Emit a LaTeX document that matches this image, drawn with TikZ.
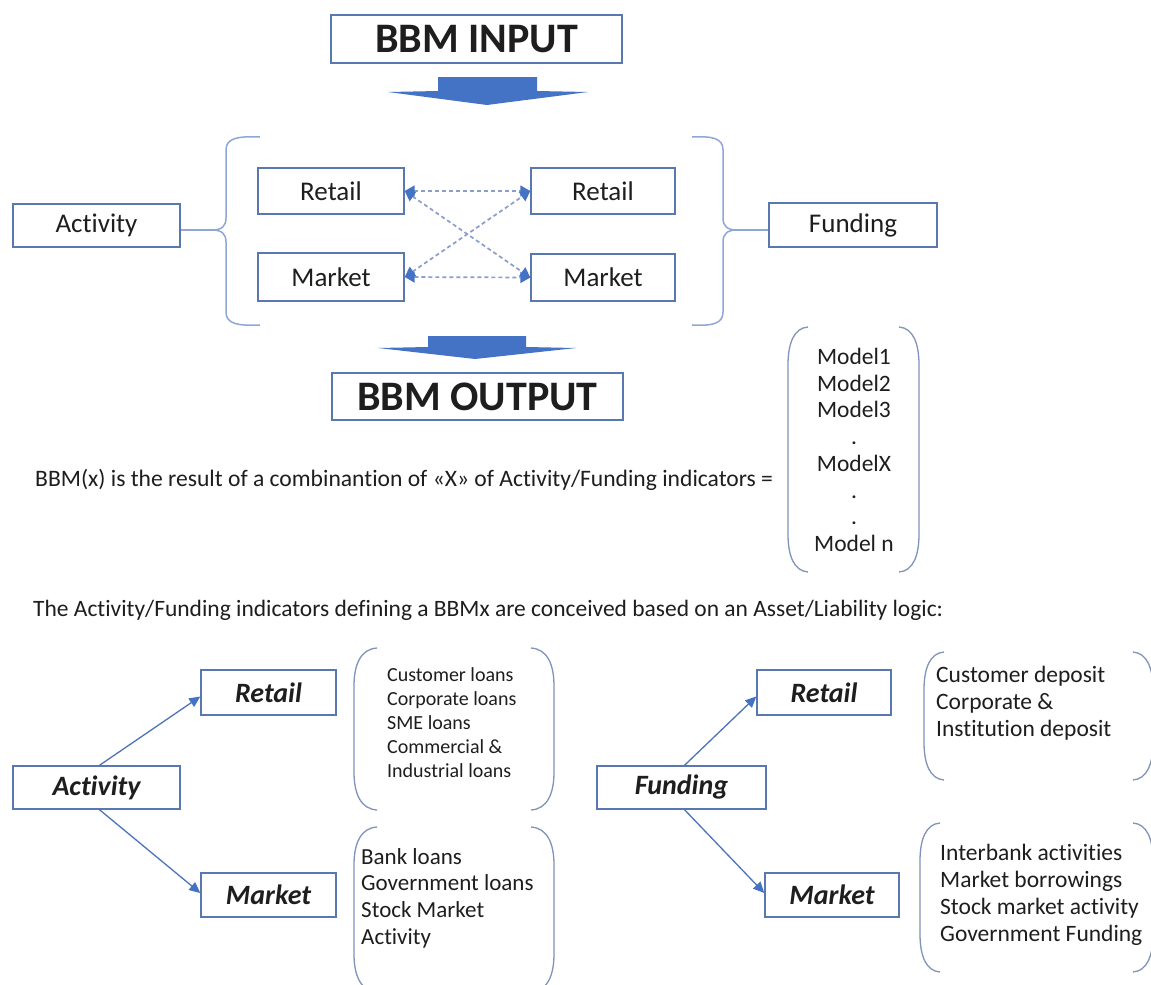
\documentclass[tikz,border=0pt]{standalone}
\usepackage{fontspec}
\setmainfont[Ligatures=NoCommon]{Carlito}
\usetikzlibrary{arrows.meta}
\definecolor{boxc}{HTML}{5A78B0}
\definecolor{bracec}{HTML}{8FA7D6}
\definecolor{parc}{HTML}{8193B8}
\definecolor{arrowc}{HTML}{4472C4}
\definecolor{dashc}{HTML}{8B9DCB}
\definecolor{txt}{HTML}{1E1E1E}
\newcommand{\myfs}[2]{\fontsize{#1}{#2}\selectfont}
\newcommand{\parpair}[5]{%
 \draw[parenline] ({#1+#5},#2) .. controls ({#1+0.3*#5},{#2+1}) and (#1,{#2+16}) .. (#1,{#2+38}) -- (#1,{#4-38}) .. controls (#1,{#4-16}) and ({#1+0.3*#5},{#4-1}) .. ({#1+#5},#4);
 \draw[parenline] ({#3-#5},#2) .. controls ({#3-0.3*#5},{#2+1}) and (#3,{#2+16}) .. (#3,{#2+38}) -- (#3,{#4-38}) .. controls (#3,{#4-16}) and ({#3-0.3*#5},{#4-1}) .. ({#3-#5},#4);}
\begin{document}
\begin{tikzpicture}[x=1pt,y=-1pt,
  lbl/.style={draw=boxc, line width=1.4pt, inner sep=0pt, text=txt, fill=white},
  toplbl/.style={lbl, font=\myfs{27}{32}, minimum height=45pt},
  titlebox/.style={lbl, font=\myfs{42}{48}\bfseries, minimum width=291pt, minimum height=48pt},
  botlbl/.style={lbl, font=\myfs{28}{33}\bfseries\itshape, minimum height=44pt},
  bracestyle/.style={draw=bracec, line width=1.5pt},
  parenline/.style={draw=parc, line width=1.3pt},
  dasharrow/.style={draw=dashc, line width=1.7pt, dash pattern=on 4pt off 3pt,
     {Triangle[length=10pt,width=11pt,color=arrowc]}-{Triangle[length=10pt,width=11pt,color=arrowc]}},
  solidarrow/.style={draw=arrowc!85!gray, line width=1.3pt, -{Triangle[length=11pt,width=10pt,color=arrowc]}},
  listtext/.style={anchor=north west, inner sep=0pt, align=left, text=txt},
  blockarrow/.style={fill=arrowc}
]
\clip (0,0) rectangle (1151,985);
\fill[white] (0,0) rectangle (1151,985);

% ---------- top part ----------
\node[titlebox] (inp) at (476.5,39) {BBM INPUT};
\fill[blockarrow] (438,77) -- (537,77) -- (537,91) -- (588,92) -- (487,105) -- (388,92) -- (438,91) -- cycle;

\node[toplbl, minimum width=167pt, minimum height=43pt] (act) at (96.5,225.5) {Activity};
\node[toplbl, minimum width=146pt, minimum height=46pt] (rl) at (331,191) {Retail};
\node[toplbl, minimum width=146pt, minimum height=48pt] (ml) at (331,277) {Market};
\node[toplbl, minimum width=144pt, minimum height=46pt] (rr) at (603,191) {Retail};
\node[toplbl, minimum width=144pt, minimum height=47pt] (mr) at (603,277.5) {Market};
\node[toplbl, minimum width=168pt, minimum height=44pt] (fund) at (853,225) {Funding};

% braces
\coordinate (cuspL) at (212,230);
\coordinate (cuspR) at (737,230);
\draw[bracestyle] (260,137) .. controls (238,136) and (226,138) .. (226,150) -- (226,218)
   .. controls (226,226) and (222,230) .. (cuspL)
   .. controls (222,230) and (226,234) .. (226,242) -- (226,312)
   .. controls (226,324) and (238,326) .. (260,325);
\draw[bracestyle] (act.east |- cuspL) -- (cuspL);
\draw[bracestyle] (692,137) .. controls (712,136) and (723,138) .. (723,150) -- (723,218)
   .. controls (723,226) and (727,230) .. (cuspR)
   .. controls (727,230) and (723,234) .. (723,242) -- (723,312)
   .. controls (723,324) and (712,326) .. (692,325);
\draw[bracestyle] (cuspR) -- (fund.west |- cuspR);

% dashed connectors
\draw[dasharrow] (rl.east) -- (rr.west);
\draw[dasharrow] (ml.east) -- (mr.west);
\draw[dasharrow] (rl.east) -- (mr.west);
\draw[dasharrow] (ml.east) -- (rr.west);

\fill[blockarrow] (428,336) -- (526,336) -- (526,347) -- (576,348) -- (475,359) -- (378,348) -- (428,347) -- cycle;
\node[titlebox, minimum height=47pt] (outp) at (477.5,396.5) {BBM OUTPUT};

% ---------- model vector ----------
\node[anchor=west, inner sep=0pt, text=txt] (eq) at (35,480)
  {\resizebox{738pt}{!}{\myfs{21}{25}BBM(x) is the result of a combinantion of «X» of Activity/Funding indicators =}};
\parpair{788}{327}{919}{572}{20}
\node[anchor=north, inner sep=0pt, align=center, text=txt, font=\myfs{23.5}{26.7}] (models) at (854,348)
  {Model1\\Model2\\Model3\\.\\ModelX\\.\\.\\Model n};

\node[anchor=west, inner sep=0pt, text=txt] (logic) at (33,610)
  {\resizebox{910pt}{!}{\myfs{21}{25}The Activity/Funding indicators defining a BBMx are conceived based on an Asset/Liability logic:}};

% ---------- bottom left ----------
\node[botlbl, minimum width=167pt, minimum height=43pt] (bact) at (96.5,787.5) {Activity};
\node[botlbl, minimum width=135pt, minimum height=45pt] (bret) at (268.5,692.5) {Retail};
\node[botlbl, minimum width=135pt, minimum height=44pt] (bmkt) at (268.5,895) {Market};
\draw[solidarrow] ([xshift=3pt]bact.north) -- ([yshift=-4pt]bret.west);
\draw[solidarrow] ([xshift=3pt]bact.south) -- ([yshift=2pt]bmkt.west);

\parpair{354}{648}{554}{810}{23}
\node[listtext, font=\myfs{20}{24}] (lretlist) at (387,667.5)
  {Customer loans\\Corporate loans\\SME loans\\Commercial \&\\Industrial loans};
\parpair{354}{827}{554}{992}{23}
\node[listtext, font=\myfs{23}{26.7}] (lmktlist) at (361,848)
  {Bank loans\\Government loans\\Stock Market\\Activity};

% ---------- bottom right ----------
\node[botlbl, minimum width=169pt, minimum height=43pt] (bfund) at (681.5,787.5) {Funding};
\node[botlbl, minimum width=134pt, minimum height=45pt] (bfret) at (824,692.5) {Retail};
\node[botlbl, minimum width=134pt, minimum height=44pt] (bfmkt) at (832,895) {Market};
\draw[solidarrow] ([xshift=3pt]bfund.north) -- ([yshift=-4pt]bfret.west);
\draw[solidarrow] ([xshift=3pt]bfund.south) -- ([yshift=2pt]bfmkt.west);

\parpair{924}{652}{1153}{780}{20}
\node[listtext, font=\myfs{23.5}{27}] (rretlist) at (936,666)
  {Customer deposit\\Corporate \&\\Institution deposit};
\parpair{920}{823}{1153}{972}{20}
\node[listtext, font=\myfs{23.5}{27}] (rmktlist) at (940,844)
  {Interbank activities\\Market borrowings\\Stock market activity\\Government Funding};
\end{tikzpicture}
\end{document}
